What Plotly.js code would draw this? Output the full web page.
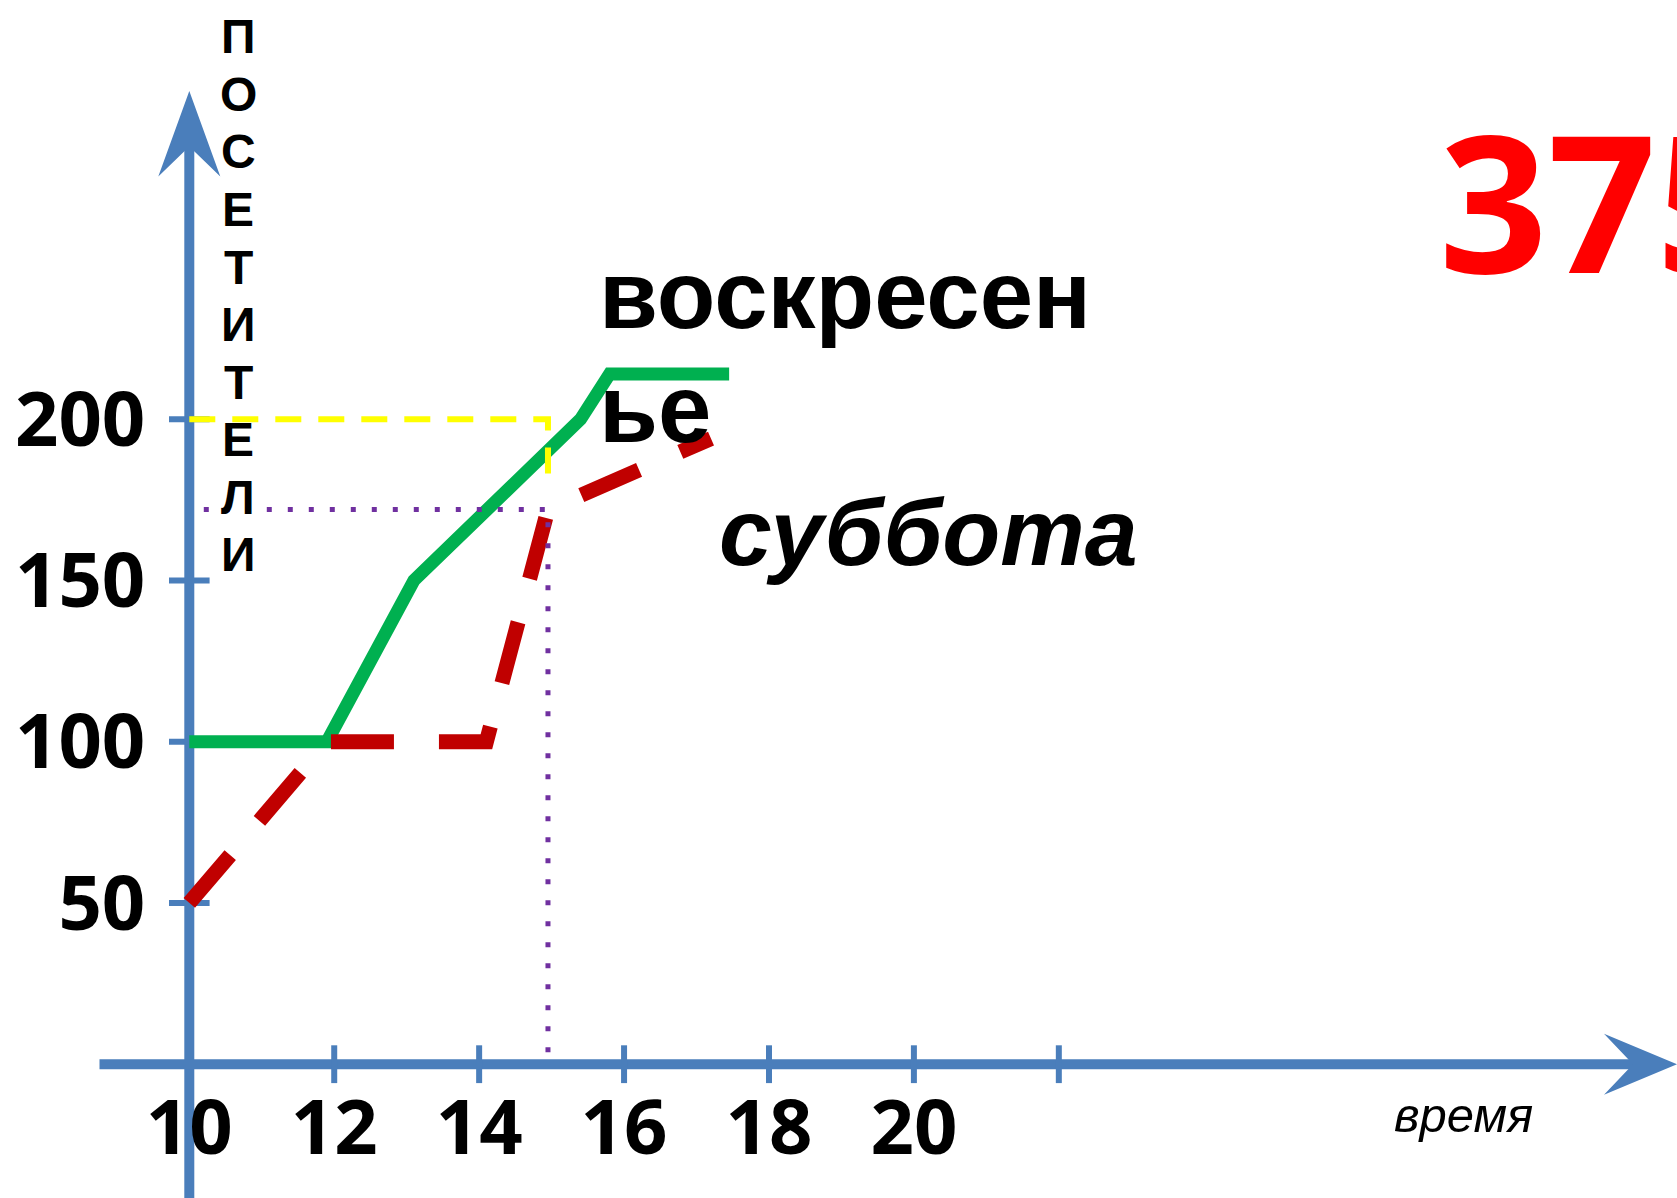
<!DOCTYPE html>
<html><head><meta charset="utf-8">
<script src="https://cdn.plot.ly/plotly-3.0.1.min.js"></script>
<style>html,body{margin:0;padding:0;background:#fff}#chart{width:1677px;height:1198px}</style>
</head><body><div id="chart"></div>
<script>
// ---- data ----
const sundayHours = [10, 11.9, 13.1, 15.4, 15.8, 17.45];
const sundayVisitors = [100, 100, 150, 200, 214, 214];
const saturdayHours = [10, 11.9, 14.1, 14.95, 17.2];
const saturdayVisitors = [50, 100, 100, 172, 194];
const sundayGuideHours = [10, 14.95, 14.95];
const sundayGuideVisitors = [200, 200, 180];
const saturdayGuideHours = [10.2, 14.95, 14.95];
const saturdayGuideVisitors = [172, 172, 0];
const xTickValues = [10, 12, 14, 16, 18, 20, 22];
const xTickLabels = ['10', '12', '14', '16', '18', '20', ''];
const yTickValues = [50, 100, 150, 200];
const yTickLabels = ['50', '100', '150', '200'];
const yTitleLetters = ['П','О','С','Е','Т','И','Т','Е','Л','И'];
const sundayLabelLines = ['воскресен', 'ье'];
const saturdayLabel = 'суббота';
const xTitle = 'время';
const totalLabel = '375';

// ---- geometry ----
const W = 1677, H = 1198;
const X10 = 189.3, PXX = 72.46;   // pixel of x=10, pixels per hour
const Y0 = 1064.2, PXY = 3.225;   // pixel of y=0, pixels per visitor
const xr = [10 - X10 / PXX, 10 + (W - X10) / PXX];
const yr = [-(H - Y0) / PXY, Y0 / PXY];
const dX = px => 10 + (px - X10) / PXX;
const dY = py => (Y0 - py) / PXY;
const pX = px => px / W;
const pY = py => 1 - py / H;

const BLUE = '#4a7ebb';

const traces = [
  {x: xTickValues.slice(1), y: xTickValues.slice(1).map(() => 0), mode: 'markers',
   marker: {symbol: 'line-ns', size: 27, line: {width: 6, color: BLUE}}, hoverinfo: 'skip'},
  {x: yTickValues.map(() => 10), y: yTickValues, mode: 'markers',
   marker: {symbol: 'line-ew', size: 29, line: {width: 6, color: BLUE}}, hoverinfo: 'skip'},
  {x: sundayHours, y: sundayVisitors, mode: 'lines', name: 'воскресенье',
   line: {color: '#00b050', width: 13}},
  {x: saturdayHours, y: saturdayVisitors, mode: 'lines', name: 'суббота',
   line: {color: '#c00000', width: 15, dash: '63px,45px'}},
  {x: sundayGuideHours, y: sundayGuideVisitors, mode: 'lines',
   line: {color: '#ffff00', width: 6, dash: '26px,17px'}},
  {x: saturdayGuideHours, y: saturdayGuideVisitors, mode: 'lines',
   line: {color: '#7030a0', width: 5, dash: '5px,16px'}}
];

const shapes = [
  {type: 'line', xref: 'x', yref: 'y', x0: 10, x1: 10, y0: dY(146), y1: dY(H + 5),
   line: {color: BLUE, width: 10}, layer: 'below'},
  {type: 'line', xref: 'x', yref: 'y', x0: dX(99.5), x1: dX(1633), y0: 0, y1: 0,
   line: {color: BLUE, width: 10}, layer: 'below'},
  {type: 'path', xref: 'x', yref: 'y', layer: 'below', fillcolor: BLUE, line: {width: 0},
   path: `M10,${dY(91)} L${dX(X10 - 31)},${dY(176.5)} L10,${dY(146.5)} L${dX(X10 + 31)},${dY(176.5)} Z`},
  {type: 'path', xref: 'x', yref: 'y', layer: 'below', fillcolor: BLUE, line: {width: 0},
   path: `M${dX(1677)},0 L${dX(1604)},${dY(Y0 - 30.5)} L${dX(1633)},0 L${dX(1604)},${dY(Y0 + 30.5)} Z`}
];

const LS = 'Liberation Sans, Arial, sans-serif';
const annotations = [];
// vertical stacked y-axis title, one letter per row
const titleTop = 37, titleStep = 57.5;
yTitleLetters.forEach((ch, i) => {
  annotations.push({text: ch, x: pX(238), y: pY(titleTop + i * titleStep), xref: 'paper', yref: 'paper',
    xanchor: 'center', yanchor: 'middle', showarrow: false,
    font: {family: LS, size: 48, weight: 700, color: '#000'}});
});
annotations.push(
  {text: sundayLabelLines[0], x: pX(597), y: pY(294), xref: 'paper', yref: 'paper',
   xanchor: 'left', yanchor: 'middle', showarrow: false,
   font: {family: LS, size: 96, weight: 700, color: '#000'}},
  {text: sundayLabelLines[1], x: pX(597), y: pY(409), xref: 'paper', yref: 'paper',
   xanchor: 'left', yanchor: 'middle', showarrow: false,
   font: {family: LS, size: 96, weight: 700, color: '#000'}},
  {text: saturdayLabel, x: pX(717), y: pY(532), xref: 'paper', yref: 'paper',
   xanchor: 'left', yanchor: 'middle', showarrow: false,
   font: {family: LS, size: 95, weight: 700, style: 'italic', color: '#000'}},
  {text: totalLabel, x: pX(1437), y: pY(199), xref: 'paper', yref: 'paper',
   xanchor: 'left', yanchor: 'middle', showarrow: false,
   font: {family: 'Open Sans, sans-serif', size: 190, weight: 700, color: '#ff0000'}},
  {text: xTitle, x: pX(1392), y: pY(1115), xref: 'paper', yref: 'paper',
   xanchor: 'left', yanchor: 'middle', showarrow: false,
   font: {family: LS, size: 49, style: 'italic', color: '#000'}}
);

const tickFont = {family: 'Open Sans, sans-serif', size: 76, weight: 700, color: '#000'};
const layout = {
  width: W, height: H,
  margin: {l: 0, r: 0, t: 0, b: 0, pad: 0},
  paper_bgcolor: '#fff', plot_bgcolor: '#fff',
  showlegend: false,
  xaxis: {range: xr, anchor: 'free', position: 1 - Y0 / H, showline: false, showgrid: false,
    zeroline: false, tickmode: 'array', tickvals: xTickValues, ticktext: xTickLabels,
    ticks: '', tickfont: tickFont, ticklabelstandoff: 13, fixedrange: true},
  yaxis: {range: yr, anchor: 'free', position: X10 / W, showline: false, showgrid: false,
    zeroline: false, tickmode: 'array', tickvals: yTickValues, ticktext: yTickLabels,
    ticks: '', tickfont: tickFont, ticklabelstandoff: 44, fixedrange: true},
  shapes: shapes,
  annotations: annotations
};

Plotly.newPlot('chart', traces, layout, {displayModeBar: false, staticPlot: true});
</script>
</body></html>
